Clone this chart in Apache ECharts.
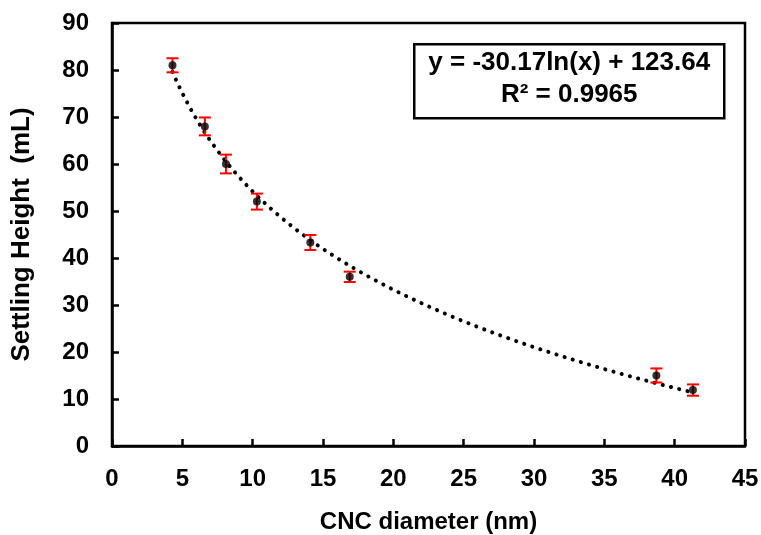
<!DOCTYPE html>
<html>
<head>
<meta charset="utf-8">
<script src="https://cdn.jsdelivr.net/npm/echarts@6/dist/echarts.min.js"></script>
<style>
html,body{margin:0;padding:0;background:#fff;}
#chart{width:761px;height:535px;}
</style>
</head>
<body>
<div id="chart"></div>
<script>
// Data
var diameters = [4.3, 6.6, 8.1, 10.3, 14.1, 16.9, 38.7, 41.3];
var heights   = [81.0, 68.0, 60.0, 52.0, 43.3, 36.0, 15.0, 11.9];
var errors    = [1.5, 1.9, 2.0, 1.7, 1.6, 1.1, 1.5, 1.2];
var xTicks = [0, 5, 10, 15, 20, 25, 30, 35, 40, 45];
var yTicks = [0, 10, 20, 30, 40, 50, 60, 70, 80, 90];
// Logarithmic trendline as stated on the chart
var trendA = -30.17;
var trendB = 123.64;
var trendRange = [4.3, 41.3];
var eqText = 'y = -30.17ln(x) + 123.64\nR² = 0.9965';

var FONT = 'Liberation Sans, Arial, sans-serif';

var points = diameters.map(function (x, i) { return [x, heights[i]]; });
var errData = diameters.map(function (x, i) { return [x, heights[i] - errors[i], heights[i] + errors[i]]; });
var trend = [];
var nSteps = 150;
for (var k = 0; k <= nSteps; k++) {
  var xv = trendRange[0] + (trendRange[1] - trendRange[0]) * k / nSteps;
  trend.push([xv, trendA * Math.log(xv) + trendB]);
}

var chart = echarts.init(document.getElementById('chart'), null, {renderer: 'canvas'});
chart.setOption({
  animation: false,
  backgroundColor: '#fff',
  grid: {left: 112, right: 16, top: 23, bottom: 89, containLabel: false, outerBoundsMode: 'none',
         show: true, borderColor: '#000', borderWidth: 2.5},
  xAxis: {
    type: 'value', min: xTicks[0], max: xTicks[xTicks.length - 1], interval: 5,
    name: 'CNC diameter (nm)', nameLocation: 'middle', nameGap: 64,
    nameTextStyle: {fontFamily: FONT, fontWeight: 'bold', fontSize: 24, color: '#000'},
    axisLine: {lineStyle: {color: '#000', width: 2.5}},
    axisTick: {inside: true, length: 7, lineStyle: {color: '#000', width: 2.5}},
    axisLabel: {margin: 21, fontFamily: FONT, fontWeight: 'bold', fontSize: 24, color: '#000'},
    splitLine: {show: false}
  },
  yAxis: {
    type: 'value', min: yTicks[0], max: yTicks[yTicks.length - 1], interval: 10,
    name: 'Settling Height  (mL)', nameLocation: 'middle', nameGap: 77,
    nameTextStyle: {fontFamily: FONT, fontWeight: 'bold', fontSize: 26, color: '#000'},
    axisLine: {lineStyle: {color: '#000', width: 2.5}},
    axisTick: {inside: true, length: 7, lineStyle: {color: '#000', width: 2.5}},
    axisLabel: {margin: 23, fontFamily: FONT, fontWeight: 'bold', fontSize: 24, color: '#000'},
    splitLine: {show: false}
  },
  graphic: [{
    type: 'group', left: 413, top: 43,
    children: [
      {type: 'rect', shape: {x: 0, y: 0, width: 310, height: 74}, style: {fill: '#fff', stroke: '#000', lineWidth: 2.5}},
      {type: 'text', x: 155, y: 35, style: {text: eqText, align: 'center', verticalAlign: 'middle', font: 'bold 26px ' + FONT, lineHeight: 32, fill: '#000'}}
    ]
  }],
  series: [
    {
      type: 'line', data: trend, showSymbol: false, symbol: 'none', z: 2,
      lineStyle: {color: '#000', width: 4, type: [0.1, 8.4], cap: 'round'}
    },
    {
      type: 'custom', z: 3, data: errData,
      renderItem: function (params, api) {
        var x = api.value(0);
        var lo = api.coord([x, api.value(1)]);
        var hi = api.coord([x, api.value(2)]);
        var hw = 6;
        var st = {stroke: '#ff0000', lineWidth: 2};
        return {type: 'group', children: [
          {type: 'line', shape: {x1: lo[0], y1: lo[1], x2: hi[0], y2: hi[1]}, style: st},
          {type: 'line', shape: {x1: lo[0] - hw, y1: lo[1], x2: lo[0] + hw, y2: lo[1]}, style: st},
          {type: 'line', shape: {x1: hi[0] - hw, y1: hi[1], x2: hi[0] + hw, y2: hi[1]}, style: st}
        ]};
      }
    },
    {
      type: 'scatter', data: points, z: 4, symbol: 'circle', symbolSize: 8,
      itemStyle: {color: '#000'}
    }
  ]
});
</script>
</body>
</html>
